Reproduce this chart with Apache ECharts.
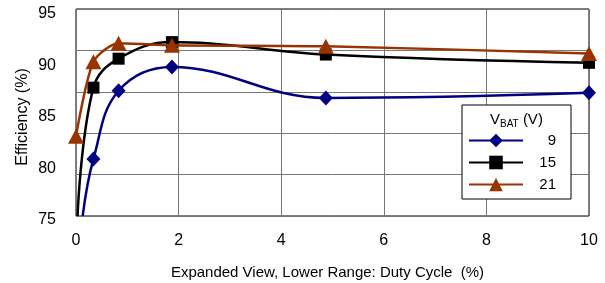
<!DOCTYPE html>
<html>
<head>
<meta charset="utf-8">
<script src="https://cdn.jsdelivr.net/npm/echarts@6/dist/echarts.min.js"></script>
<style>
  html, body { margin: 0; padding: 0; background: #fff; }
  #chart { width: 605px; height: 283px; }
</style>
</head>
<body>
<div id="chart"></div>
<script>
// duty cycle (%) of the marked points
const dutyCycle = [0.34, 0.83, 1.87, 4.87, 10];
// efficiency (%) per battery voltage
const eff9V = [80.5, 87.1, 89.4, 86.4, 86.9];
const eff15V = [87.4, 90.2, 91.8, 90.6, 89.8];
const eff21V = [89.9, 91.7, 91.5, 91.4, 90.7];
// where each curve enters the plot (no marker)
const start9V = [0.13, 75];
const start15V = [0.03, 75];
const start21V = [0, 82.7];
const xTicks = [0, 2, 4, 6, 8, 10];
const yTicks = [75, 80, 85, 90, 95];
const seriesNames = ['9', '15', '21'];

const FONT = 'Liberation Sans, Arial, sans-serif';

function buildData(start, values, startHasMarker) {
  const out = [{ value: start, symbol: startHasMarker ? undefined : 'none' }];
  dutyCycle.forEach((x, i) => out.push([x, values[i]]));
  return out;
}

const chart = echarts.init(document.getElementById('chart'), null, { renderer: 'canvas' });

const option = {
  backgroundColor: '#fff',
  animation: false,
  textStyle: { fontFamily: FONT, color: '#000' },
  grid: [
    { left: 76, right: 16, top: 9, bottom: 67, outerBoundsMode: 'none', show: true, borderColor: '#000', borderWidth: 1, backgroundColor: 'transparent' },
    { left: 76, right: 16, top: 14, bottom: 63, outerBoundsMode: 'none', show: false }
  ],
  xAxis: [
    {
      type: 'value', gridIndex: 0, min: 0, max: 10, interval: 2,
      axisLine: { show: false }, axisTick: { show: false },
      axisLabel: { fontSize: 16, color: '#000', margin: 17, fontFamily: FONT,
        formatter: (v) => (xTicks.indexOf(v) >= 0 ? String(v) : '') },
      splitLine: { show: true, lineStyle: { color: '#777', width: 1 } },
      name: 'Expanded View, Lower Range: Duty Cycle  (%)',
      nameLocation: 'middle', nameGap: 49, nameMoveOverlap: false,
      nameTextStyle: { fontSize: 15, color: '#000', fontFamily: FONT, padding: [0, 10, 0, 0] }
    },
    {
      type: 'value', gridIndex: 1, min: 0, max: 10, show: false
    }
  ],
  yAxis: [
    {
      // data scale
      type: 'value', gridIndex: 0, min: 75, max: 95,
      axisLine: { show: false }, axisTick: { show: false },
      axisLabel: { show: false }, splitLine: { show: false }
    },
    {
      // grid lines of the plot box (5 bands)
      type: 'value', gridIndex: 0, min: 0, max: 5, interval: 1,
      axisLine: { show: false }, axisTick: { show: false },
      axisLabel: { show: false },
      splitLine: { show: true, lineStyle: { color: '#777', width: 1 } }
    },
    {
      // tick labels
      type: 'value', gridIndex: 1, min: 75, max: 95, interval: 5,
      axisLine: { show: false }, axisTick: { show: false },
      splitLine: { show: false },
      axisLabel: { fontSize: 16, color: '#000', margin: 20, fontFamily: FONT,
        formatter: (v) => (yTicks.indexOf(v) >= 0 ? String(v) : '') },
      name: 'Efficiency (%)', nameLocation: 'middle', nameGap: 45, nameMoveOverlap: false,
      nameTextStyle: { fontSize: 16, color: '#000', fontFamily: FONT }
    }
  ],
  legend: {
    orient: 'vertical',
    left: 462, top: 105,
    data: seriesNames,
    padding: [28, 15, 7, 6],
    itemWidth: 54, itemHeight: 17, itemGap: 7, itemTextGap: 5,
    backgroundColor: '#fff', borderColor: '#000', borderWidth: 1, borderRadius: 0,
    textStyle: {
      fontSize: 15, color: '#000', fontFamily: FONT,
      rich: { r: { width: 28, align: 'right', fontSize: 15, fontFamily: FONT } }
    },
    formatter: (name) => '{r|' + name + '}'
  },
  graphic: [
    {
      type: 'text', left: 490, top: 112, z: 100,
      style: {
        text: '{v|V}{s|BAT}{v| (V)}',
        rich: {
          v: { fontSize: 15, fontFamily: FONT, fill: '#000', verticalAlign: 'bottom' },
          s: { fontSize: 10, fontFamily: FONT, fill: '#000', verticalAlign: 'bottom', padding: [0, 0, -2, 0] }
        }
      }
    }
  ],
  series: [
    {
      name: '9', type: 'line', xAxisIndex: 0, yAxisIndex: 0,
      data: buildData(start9V, eff9V, false),
      smooth: 0.4, symbol: 'diamond', symbolSize: [14, 15],
      color: '#000080',
      lineStyle: { color: '#000080', width: 2.5 },
      itemStyle: { color: '#000080' }, z: 3
    },
    {
      name: '15', type: 'line', xAxisIndex: 0, yAxisIndex: 0,
      data: buildData(start15V, eff15V, false),
      smooth: 0.4, symbol: 'rect', symbolSize: 12,
      color: '#000000',
      lineStyle: { color: '#000000', width: 2.5 },
      itemStyle: { color: '#000000' }, z: 4
    },
    {
      name: '21', type: 'line', xAxisIndex: 0, yAxisIndex: 0,
      data: buildData(start21V, eff21V, true),
      smooth: 0.25, symbol: 'triangle', symbolSize: [16, 15],
      color: '#993300',
      lineStyle: { color: '#993300', width: 2.5 },
      itemStyle: { color: '#993300' }, z: 5
    }
  ]
};

chart.setOption(option);
window.addEventListener('resize', chart.resize);
</script>
</body>
</html>
